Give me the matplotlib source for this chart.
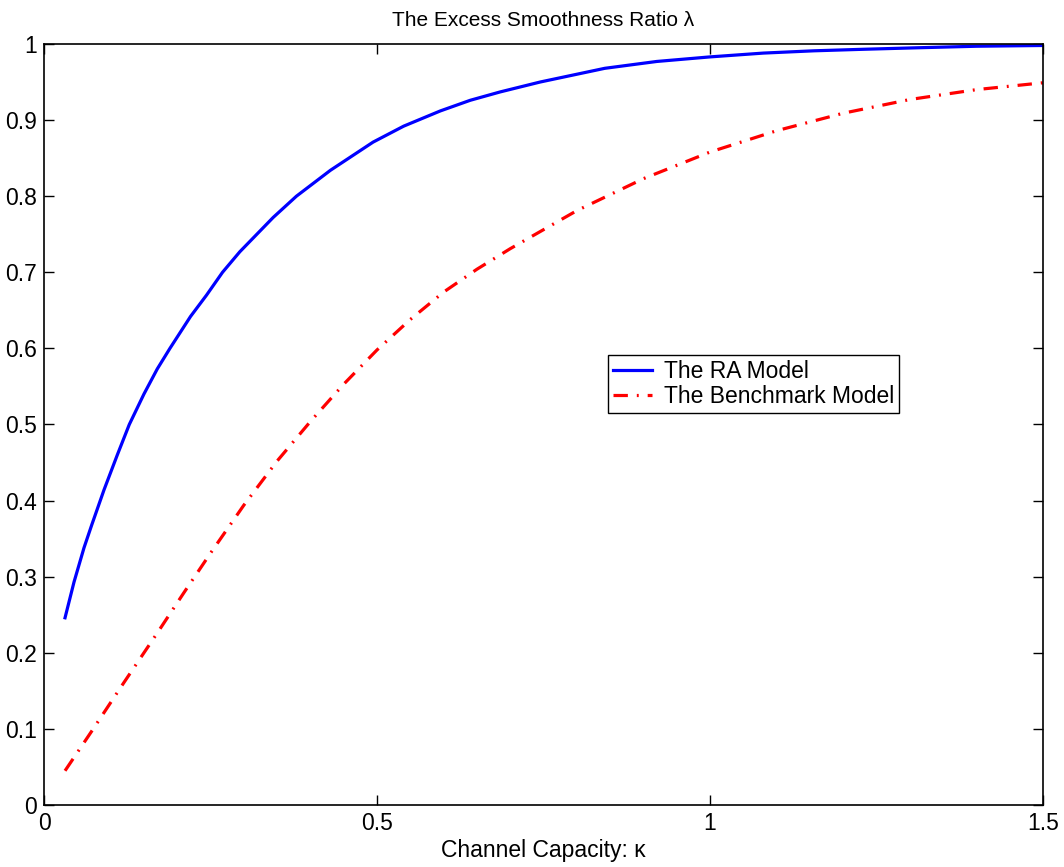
import matplotlib.pyplot as plt
from matplotlib.ticker import FixedLocator

# values
kappa_ra = [0.0315, 0.045, 0.06, 0.0716, 0.09, 0.11, 0.128, 0.15, 0.17, 0.189, 0.22,
            0.244, 0.268, 0.294, 0.344, 0.379, 0.43, 0.494, 0.54, 0.595, 0.64, 0.685,
            0.745, 0.842, 0.92, 1.0, 1.08, 1.156, 1.23, 1.312, 1.4, 1.5]
lambda_ra = [0.246, 0.293, 0.338, 0.368, 0.414, 0.46, 0.50, 0.54, 0.573, 0.60, 0.642,
             0.67, 0.70, 0.727, 0.772, 0.80, 0.834, 0.871, 0.892, 0.912, 0.926, 0.937,
             0.950, 0.968, 0.977, 0.983, 0.988, 0.991, 0.993, 0.995, 0.997, 0.998]

kappa_bm = [0.0315, 0.07, 0.12, 0.17, 0.21, 0.25, 0.30, 0.35, 0.40, 0.45, 0.50, 0.55,
            0.60, 0.65, 0.70, 0.80, 0.90, 1.00, 1.10, 1.20, 1.30, 1.40, 1.50]
lambda_bm = [0.045, 0.095, 0.161, 0.226, 0.279, 0.331, 0.394, 0.452, 0.504, 0.553, 0.598, 0.638,
             0.674, 0.704, 0.731, 0.781, 0.823, 0.858, 0.886, 0.909, 0.927, 0.940, 0.949]

xticks = [0, 0.5, 1, 1.5]
xticklabels = ["0", "0.5", "1", "1.5"]
yticks = [i / 10 for i in range(11)]
yticklabels = ["0"] + [f"{v:.1f}" for v in yticks[1:-1]] + ["1"]

plt.rcParams["font.family"] = ["Liberation Sans", "DejaVu Sans"]
plt.rcParams["font.size"] = 16.5

fig = plt.figure(figsize=(10.64, 8.67), dpi=100)
ax = fig.add_axes([0.0414, 0.0715, 0.9389, 0.8778])

ax.plot(kappa_ra, lambda_ra, color="#0000ff", lw=2.3, label="The RA Model")
ax.plot(kappa_bm, lambda_bm, color="#ff0000", lw=2.3, linestyle=(0, (4.5, 2.8, 0.6, 2.8)),
        label="The Benchmark Model")

ax.set_xlim(0, 1.5)
ax.set_ylim(0, 1)
ax.xaxis.set_major_locator(FixedLocator(xticks))
ax.set_xticklabels(xticklabels)
ax.yaxis.set_major_locator(FixedLocator(yticks))
ax.set_yticklabels(yticklabels)
ax.tick_params(direction="in", length=7, width=1, top=True, right=True, pad=5)
for s in ax.spines.values():
    s.set_linewidth(1.2)

ax.set_title("The Excess Smoothness Ratio λ", fontsize=15, pad=13)
ax.set_xlabel("Channel Capacity: κ", labelpad=3)

leg = ax.legend(loc="upper left", bbox_to_anchor=(0.565, 0.591), borderaxespad=0,
                fancybox=False, framealpha=1, edgecolor="black", handlelength=1.7,
                handletextpad=0.52, borderpad=0.2, labelspacing=0.1)
leg.get_frame().set_linewidth(1.0)

fig.savefig("out.png", dpi=100)
plt.close()
